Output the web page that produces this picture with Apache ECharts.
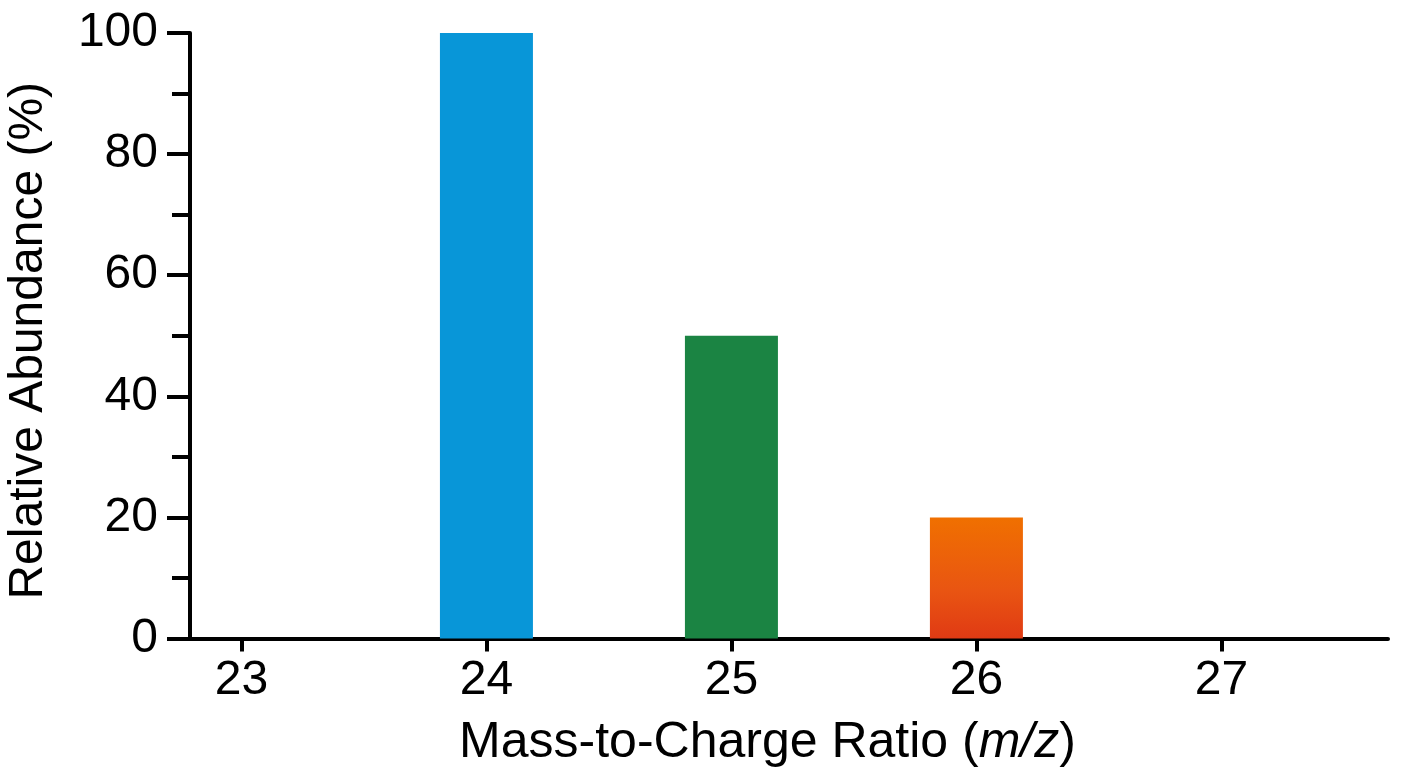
<!DOCTYPE html>
<html>
<head>
<meta charset="utf-8">
<title>Mass spectrum</title>
<script src="https://cdn.jsdelivr.net/npm/echarts@6/dist/echarts.min.js"></script>
<style>
  html, body { margin: 0; padding: 0; background: #fff; }
  #chart { width: 1408px; height: 768px; }
</style>
</head>
<body>
<div id="chart"></div>
<script>
// m/z of each peak and its relative abundance (%)
var massValues = [24, 25, 26];
var abundance = [100, 50, 20];
// x axis tick labels
var xTicks = [23, 24, 25, 26, 27];

var barColors = [
    '#0896d8',
    '#1b8443',
    new echarts.graphic.LinearGradient(0, 0, 0, 1, [
        { offset: 0, color: '#f07000' },
        { offset: 0.6, color: '#e95512' },
        { offset: 1, color: '#e03a14' }
    ])
];

var font = "'Liberation Sans', Arial, Helvetica, sans-serif";

var peakData = [];
for (var i = 0; i < massValues.length; i++) {
    peakData.push({
        value: [massValues[i], abundance[i]],
        itemStyle: { color: barColors[i] }
    });
}

var chart = echarts.init(document.getElementById('chart'));

var option = {
    backgroundColor: '#ffffff',
    animation: false,
    grid: { left: 190, right: 20, top: 33, bottom: 129.5, outerBoundsMode: 'none', containLabel: false },
    xAxis: {
        type: 'value',
        min: 22.79,
        max: 27.68,
        name: 'Mass-to-Charge Ratio ({i|m/z})',
        nameLocation: 'middle',
        nameGap: 80,
        nameTextStyle: {
            fontFamily: font,
            fontSize: 50,
            color: '#000',
            padding: [0, 43, 0, 0],
            rich: {
                i: { fontFamily: font, fontSize: 50, fontStyle: 'italic', color: '#000' }
            }
        },
        axisLine: { show: true, lineStyle: { color: '#000', width: 4 } },
        axisTick: {
            show: true, length: 13, customValues: xTicks,
            lineStyle: { color: '#000', width: 4 }
        },
        axisLabel: {
            customValues: xTicks,
            margin: 18,
            fontFamily: font,
            fontSize: 48,
            color: '#000'
        },
        splitLine: { show: false }
    },
    yAxis: {
        type: 'value',
        min: 0,
        max: 100,
        interval: 20,
        name: 'Relative Abundance (%)',
        nameLocation: 'middle',
        nameGap: 137,
        nameTextStyle: { fontFamily: font, fontSize: 48, color: '#000', padding: [0, 10, 0, 0] },
        axisLine: { show: true, lineStyle: { color: '#000', width: 4 } },
        axisTick: { show: true, length: 23, lineStyle: { color: '#000', width: 4 } },
        minorTick: { show: true, splitNumber: 2, length: 18, lineStyle: { color: '#000', width: 4 } },
        axisLabel: { margin: 32, fontFamily: font, fontSize: 48, color: '#000' },
        splitLine: { show: false }
    },
    series: [
        {
            type: 'bar',
            barWidth: 93,
            data: peakData
        }
    ]
};

chart.setOption(option);
</script>
</body>
</html>
